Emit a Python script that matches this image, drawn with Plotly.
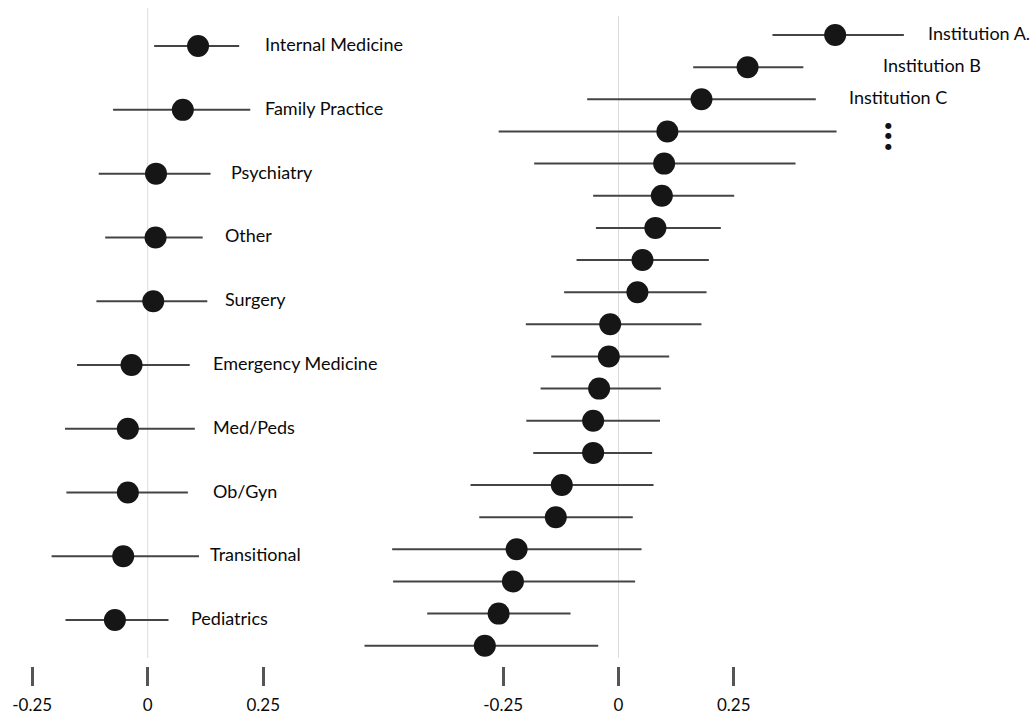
import plotly.graph_objects as go

# ---------------- data ----------------
SPECIALTIES = ["Internal Medicine", "Family Practice", "Psychiatry", "Other", "Surgery",
               "Emergency Medicine", "Med/Peds", "Ob/Gyn", "Transitional", "Pediatrics"]
SPEC_EST = [0.109, 0.076, 0.018, 0.017, 0.012, -0.035, -0.043, -0.043, -0.053, -0.071]
SPEC_LO = [0.014, -0.075, -0.106, -0.092, -0.111, -0.153, -0.179, -0.176, -0.208, -0.178]
SPEC_HI = [0.198, 0.222, 0.136, 0.119, 0.129, 0.091, 0.102, 0.087, 0.111, 0.045]

INST_RANK = list(range(1, 21))
INST_EST = [0.470, 0.280, 0.180, 0.106, 0.099, 0.094, 0.080, 0.052, 0.041, -0.018,
            -0.021, -0.042, -0.055, -0.055, -0.123, -0.136, -0.221, -0.229, -0.260, -0.290]
INST_LO = [0.334, 0.162, -0.068, -0.260, -0.183, -0.055, -0.049, -0.091, -0.118, -0.201,
           -0.146, -0.169, -0.200, -0.185, -0.321, -0.302, -0.491, -0.489, -0.415, -0.551]
INST_HI = [0.619, 0.401, 0.428, 0.473, 0.384, 0.251, 0.222, 0.196, 0.191, 0.180,
           0.110, 0.092, 0.090, 0.073, 0.076, 0.031, 0.050, 0.036, -0.104, -0.044]
INST_LABELS = ["Institution A.", "Institution B", "Institution C"]

TICK_VALS = [-0.25, 0, 0.25]
TICK_TEXT = ["-0.25", "0", "0.25"]

# ---------------- layout helpers (positions, not data) ----------------
SPEC_LABEL_X = [0.25, 0.25, 0.176, 0.162, 0.162, 0.137, 0.137, 0.137, 0.131, 0.089]
INST_LABEL_X = [0.668, 0.569, 0.495]
ELLIPSIS_X = 0.585

FONT = "Lato"
DOT = "#161616"
BAR = "#444444"
TXT = "#0a0a0a"

fig = go.Figure()

fig.add_trace(go.Scatter(
    x=SPEC_EST, y=SPECIALTIES, mode="markers",
    marker=dict(size=22, color=DOT, line=dict(width=0)),
    error_x=dict(type="data", symmetric=False,
                 array=[h - e for h, e in zip(SPEC_HI, SPEC_EST)],
                 arrayminus=[e - l for e, l in zip(SPEC_EST, SPEC_LO)],
                 color=BAR, thickness=2, width=0),
    xaxis="x", yaxis="y", showlegend=False, hoverinfo="skip"))

fig.add_trace(go.Scatter(
    x=INST_EST, y=INST_RANK, mode="markers",
    marker=dict(size=22, color=DOT, line=dict(width=0)),
    error_x=dict(type="data", symmetric=False,
                 array=[h - e for h, e in zip(INST_HI, INST_EST)],
                 arrayminus=[e - l for e, l in zip(INST_EST, INST_LO)],
                 color=BAR, thickness=2, width=0),
    xaxis="x2", yaxis="y2", showlegend=False, hoverinfo="skip"))

W, H = 1034, 715
split = 355 / W

axis_common = dict(
    tickvals=TICK_VALS, ticktext=TICK_TEXT, ticks="outside", ticklen=19,
    tickwidth=2.5, tickcolor="#555555", showline=False, showgrid=False,
    zeroline=False, tickfont=dict(family=FONT, size=17, color=TXT),
    ticklabelstandoff=5, fixedrange=True,
)
yaxis_common = dict(showticklabels=False, showgrid=False, zeroline=False,
                    showline=False, ticks="", fixedrange=True)

fig.update_layout(
    width=W, height=H,
    margin=dict(l=0, r=0, t=0, b=49),
    paper_bgcolor="white", plot_bgcolor="rgba(0,0,0,0)",
    xaxis=dict(domain=[0, split], range=[-0.3197, 0.4487], anchor="y", **axis_common),
    yaxis=dict(domain=[0, 1], type="category", categoryorder="array",
               categoryarray=SPECIALTIES, range=[9.72, -0.7225], anchor="x",
               **yaxis_common),
    xaxis2=dict(domain=[split, 1], range=[-0.5716, 0.9013], anchor="y2", **axis_common),
    yaxis2=dict(domain=[0, 1], range=[20.63, -0.09], anchor="x2", **yaxis_common),
    shapes=[
        dict(type="line", xref="x", yref="y domain", x0=0, x1=0, y0=0.012, y1=0.988,
             line=dict(color="#dcdcdc", width=1), layer="below"),
        dict(type="line", xref="x2", yref="y2 domain", x0=0, x1=0, y0=0.012, y1=0.976,
             line=dict(color="#dcdcdc", width=1), layer="below"),
    ],
)

annotations = []
for name, lx in zip(SPECIALTIES, SPEC_LABEL_X):
    annotations.append(dict(x=lx, y=name, xref="x", yref="y", text=name,
                            showarrow=False, xanchor="left", yanchor="middle", yshift=2,
                            font=dict(family=FONT, size=18, color=TXT)))
for rank, name, lx in zip(INST_RANK, INST_LABELS, INST_LABEL_X):
    annotations.append(dict(x=lx, y=rank, xref="x2", yref="y2", text=name,
                            showarrow=False, xanchor="left", yanchor="middle", yshift=2,
                            font=dict(family=FONT, size=18, color=TXT)))
annotations.append(dict(x=ELLIPSIS_X, y=INST_RANK[3], xref="x2", yref="y2",
                        text="●<br>●<br>●", showarrow=False, xanchor="center",
                        yanchor="middle", yshift=-5,
                        font=dict(family="DejaVu Sans", size=8, color="#111111")))
fig.update_layout(annotations=annotations)

fig.write_html("out.html", config={"displayModeBar": False},
               post_script="document.body.style.margin='0';document.body.style.overflow='hidden';")
